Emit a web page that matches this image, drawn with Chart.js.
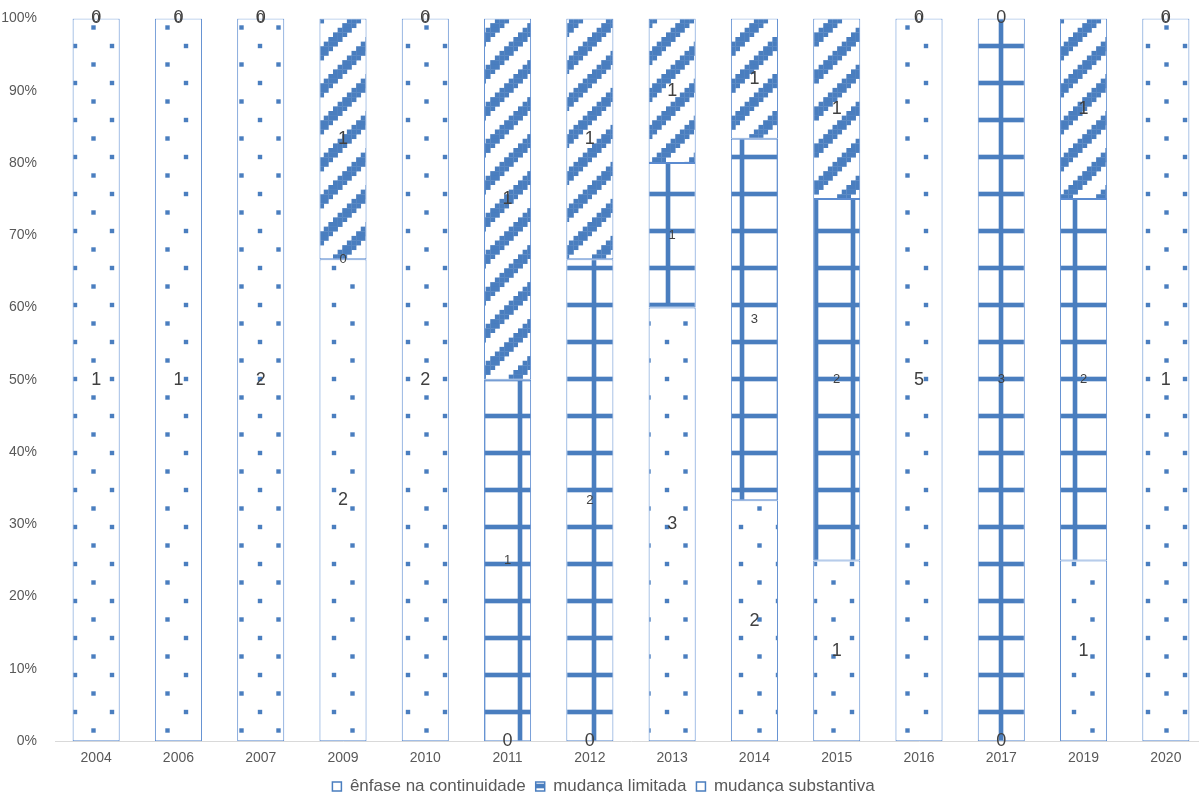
<!DOCTYPE html>
<html>
<head>
<meta charset="utf-8">
<script src="https://cdn.jsdelivr.net/npm/chart.js@4"></script>
<style>
  html, body { margin: 0; padding: 0; background: #fff; overflow: hidden; }
  #wrap { width: 1207px; height: 805px; }
</style>
</head>
<body>
<div id="wrap"><canvas id="chart"></canvas></div>
<script>
const years = ['2004', '2006', '2007', '2009', '2010', '2011', '2012', '2013', '2014', '2015', '2016', '2017', '2019', '2020'];
const continuidade = [1, 1, 2, 2, 2, 0, 0, 3, 2, 1, 5, 0, 1, 1];
const limitada     = [0, 0, 0, 0, 0, 1, 2, 1, 3, 2, 0, 3, 2, 0];
const substantiva  = [0, 0, 0, 1, 0, 1, 1, 1, 1, 1, 0, 0, 1, 0];
const seriesNames = ['ênfase na continuidade', 'mudança limitada', 'mudança substantiva'];
const yTicks = [0, 10, 20, 30, 40, 50, 60, 70, 80, 90, 100];

const BLUE = '#4a7ebf';
const EDGE = '#5b8bd0';
const TILE = 37;
const U = TILE / 8;

function makeTile(draw) {
  const c = document.createElement('canvas');
  c.width = TILE; c.height = TILE;
  const g = c.getContext('2d');
  g.fillStyle = '#fff';
  g.fillRect(0, 0, TILE, TILE);
  g.fillStyle = BLUE;
  draw(g);
  return document.getElementById('chart').getContext('2d').createPattern(c, 'repeat');
}

// draws a rect and its wrapped copies so the tile repeats seamlessly
function wrapRect(g, x, y, w, h) {
  for (const dx of [-TILE, 0, TILE]) {
    for (const dy of [-TILE, 0, TILE]) {
      g.fillRect(x + dx, y + dy, w, h);
    }
  }
}

const dots = makeTile(g => {
  wrapRect(g, 1 - 2.2, 9 - 2.2, 4.4, 4.4);
  wrapRect(g, 19.5 - 2.2, 27.5 - 2.2, 4.4, 4.4);
});

const grid = makeTile(g => {
  wrapRect(g, -0.3, 0, U, TILE);
  wrapRect(g, 0, 9 - U / 2, TILE, U);
});

const stairs = makeTile(g => {
  for (let r = 0; r < 8; r++) {
    for (let k = 0; k < 3; k++) {
      const c = ((7 - r + k) % 8 + 8) % 8;
      g.fillRect(c * U, r * U, U + 0.3, U + 0.3);
    }
  }
});

const counts = [continuidade, limitada, substantiva];
const totals = years.map((_, i) => continuidade[i] + limitada[i] + substantiva[i]);
const pct = arr => arr.map((v, i) => v / totals[i] * 100);

const labelFonts = [18, 13, 18];

const barLabels = {
  id: 'barLabels',
  afterDatasetsDraw(chart) {
    const ctx = chart.ctx;
    ctx.save();
    ctx.fillStyle = '#404040';
    ctx.textAlign = 'center';
    ctx.textBaseline = 'middle';
    chart.data.datasets.forEach((ds, i) => {
      ctx.font = labelFonts[i] + 'px "Liberation Sans", Arial, sans-serif';
      chart.getDatasetMeta(i).data.forEach((bar, j) => {
        const y = (bar.y + bar.base) / 2;
        ctx.fillText(String(counts[i][j]), bar.x, y);
      });
    });
    ctx.restore();
  }
};

const fills = [dots, grid, stairs];

new Chart(document.getElementById('chart'), {
  type: 'bar',
  data: {
    labels: years,
    datasets: counts.map((arr, i) => ({
      label: seriesNames[i],
      data: pct(arr),
      backgroundColor: fills[i],
      borderColor: EDGE,
      borderWidth: 1,
      borderSkipped: false,
      categoryPercentage: 1,
      barPercentage: 0.572
    }))
  },
  options: {
    responsive: true,
    maintainAspectRatio: false,
    animation: false,
    layout: { padding: { top: 9, left: 0, right: 0, bottom: 0 } },
    plugins: {
      tooltip: { enabled: false },
      legend: {
        position: 'bottom',
        labels: {
          boxWidth: 9,
          boxHeight: 9,
          padding: 10,
          color: '#595959',
          font: { size: 17, family: '"Liberation Sans", Arial, sans-serif' },
          generateLabels: chart => {
            const items = Chart.defaults.plugins.legend.labels.generateLabels(chart);
            items.forEach((it, i) => {
              if (i !== 1) it.fillStyle = '#fff';
              it.strokeStyle = BLUE;
              it.lineWidth = 1.5;
            });
            return items;
          }
        }
      }
    },
    scales: {
      x: {
        stacked: true,
        grid: { display: false },
        border: { color: '#d9d9d9', width: 1 },
        ticks: {
          color: '#595959',
          padding: 1,
          font: { size: 14, family: '"Liberation Sans", Arial, sans-serif' }
        }
      },
      y: {
        stacked: true,
        min: 0,
        max: 100,
        afterBuildTicks: scale => { scale.ticks = yTicks.map(v => ({ value: v })); },
        afterFit: scale => { scale.width = 55; },
        grid: { display: false },
        border: { display: false },
        ticks: {
          color: '#595959',
          padding: 10,
          callback: v => v + '%',
          font: { size: 14, family: '"Liberation Sans", Arial, sans-serif' }
        }
      }
    }
  },
  plugins: [barLabels]
});
</script>
</body>
</html>
